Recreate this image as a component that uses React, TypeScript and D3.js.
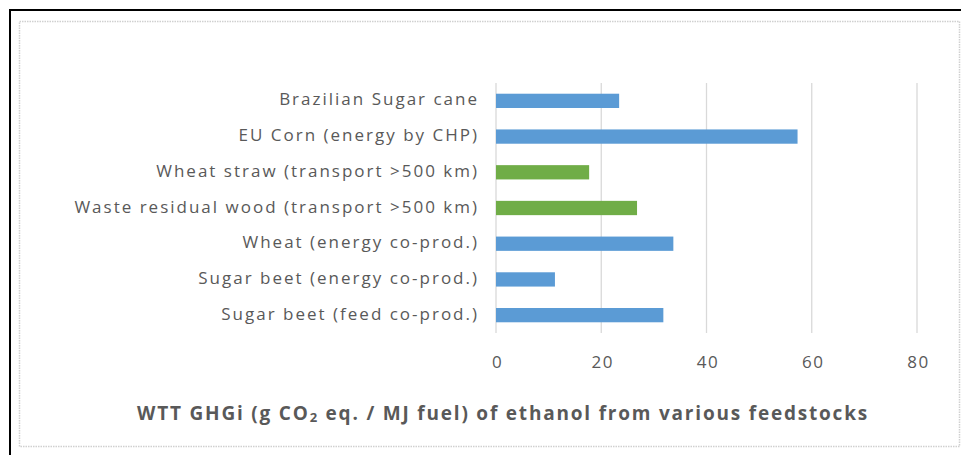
import React from "react";
import * as d3 from "d3";

const categories = [
  "Brazilian Sugar cane",
  "EU Corn (energy by CHP)",
  "Wheat straw (transport >500 km)",
  "Waste residual wood (transport >500 km)",
  "Wheat (energy co-prod.)",
  "Sugar beet (energy co-prod.)",
  "Sugar beet (feed co-prod.)",
];
const values = [23.4, 57.3, 17.7, 26.8, 33.7, 11.2, 31.8];
const groups = ["first", "first", "second", "second", "first", "first", "first"];
const xTicks = [0, 20, 40, 60, 80];

const W = 961;
const H = 455;

export default function App() {
  const x = d3.scaleLinear().domain([0, 80]).range([496, 917]);
  const y = d3
    .scaleBand<string>()
    .domain(categories)
    .range([83, 333])
    .paddingInner(0.6)
    .paddingOuter(0.3);
  const color = d3
    .scaleOrdinal<string, string>()
    .domain(["first", "second"])
    .range(["#5B9BD5", "#70AD47"]);
  const font = "'Open Sans', 'Liberation Sans', sans-serif";
  const labelSpacing = 2;
  return (
    <svg
      width={W}
      height={H}
      style={{ position: "absolute", left: 0, top: 0, background: "#fff" }}
      fontFamily={font}
    >
      <rect x={0} y={0} width={W} height={H} fill="#fff" />
      <rect x={10} y={10} width={W} height={H} fill="none" stroke="#000" strokeWidth={2} />
      <rect
        x={19.5}
        y={21.5}
        width={940}
        height={425}
        fill="none"
        stroke="#d0d0d0"
        strokeWidth={1.5}
        strokeDasharray="1.5,1"
      />
      {xTicks.map((t) => (
        <g key={t}>
          <line x1={x(t)} x2={x(t)} y1={83} y2={333} stroke="#d9d9d9" strokeWidth={1.3} />
          <text
            x={x(t) + 1.5}
            y={363}
            textAnchor="middle"
            dominantBaseline="middle"
            fontSize={17}
            letterSpacing={1.5}
            fill="#595959"
          >
            {t}
          </text>
        </g>
      ))}
      {categories.map((c, i) => (
        <g key={c}>
          <rect
            x={x(0)}
            y={y(c)!}
            width={x(values[i]) - x(0)}
            height={y.bandwidth()}
            fill={color(groups[i])}
          />
          <text
            x={477 + labelSpacing}
            y={y(c)! + y.bandwidth() / 2}
            textAnchor="end"
            dominantBaseline="middle"
            fontSize={17}
            letterSpacing={labelSpacing}
            fill="#595959"
          >
            {c}
          </text>
        </g>
      ))}
      <text
        x={503}
        y={415}
        textAnchor="middle"
        dominantBaseline="middle"
        fontSize={19}
        letterSpacing={1.8}
        fontWeight="bold"
        fill="#595959"
      >
        WTT GHGi (g CO
        <tspan fontSize={13} dy={4}>2</tspan>
        <tspan dy={-4}> eq. / MJ fuel) of ethanol from various feedstocks</tspan>
      </text>
    </svg>
  );
}
